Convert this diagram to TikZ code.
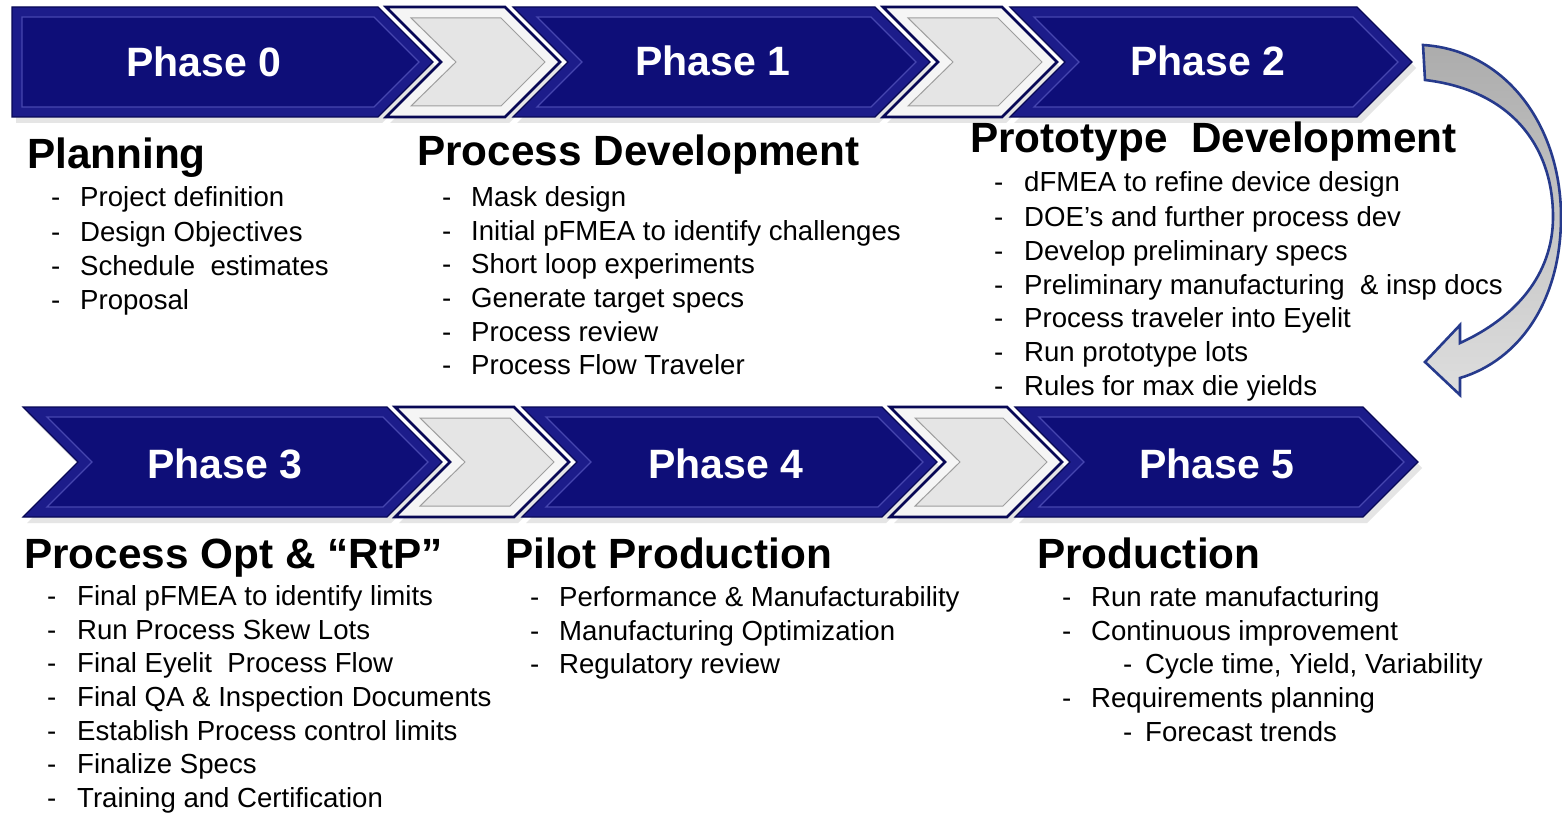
\documentclass[tikz,border=0pt]{standalone}
\usepackage{fontspec}
\setmainfont{Liberation Sans}
\definecolor{navyout}{RGB}{28,28,138}
\definecolor{navyin}{RGB}{14,14,120}
\definecolor{navyedge}{RGB}{8,8,85}
\definecolor{bevelblue}{RGB}{70,70,175}
\definecolor{arrowedge}{RGB}{38,58,140}
\definecolor{arrowtop}{RGB}{172,172,172}
\definecolor{arrowbot}{RGB}{222,222,222}

% blue phase chevron: xl, xn (notch), xr (top right), xt (tip), yt, inner left inset top, inner left inset mid
\newcommand\bluechev[7]{%
  \fill[shadowfill] (#1+4,#5+6) -- (#3+4,#5+6) -- (#4+4,#5+61) -- (#3+4,#5+116) -- (#1+4,#5+116) -- (#2+4,#5+61) -- cycle;
  \path[blue outer] (#1,#5) -- (#3,#5) -- (#4,#5+55) -- (#3,#5+110) -- (#1,#5+110) -- (#2,#5+55) -- cycle;
  \path[blue inner] (#1+#6,#5+10) -- (#3-4,#5+10) -- (#4-14,#5+55) -- (#3-4,#5+100) -- (#1+#6,#5+100) -- (#2+#7,#5+55) -- cycle;
}
% grey connecting chevron: xl, xn, xr, xt, yt
\newcommand\graychev[5]{%
  \fill[shadowfill] (#1+4,#5+6) -- (#3+4,#5+6) -- (#4+4,#5+61) -- (#3+4,#5+116) -- (#1+4,#5+116) -- (#2+4,#5+61) -- cycle;
  \path[gray outer] (#1,#5) -- (#3,#5) -- (#4,#5+55) -- (#3,#5+110) -- (#1,#5+110) -- (#2,#5+55) -- cycle;
  \path[gray inner] (#1+25,#5+11) -- (#3-4,#5+11) -- (#4-15,#5+55) -- (#3-4,#5+99) -- (#1+25,#5+99) -- (#2+15,#5+55) -- cycle;
}
% one list line: name, dash x, text x, baseline y, text
\newcommand\listline[5]{%
  \node[item] (#1-d) at (#2,#4) {-};
  \node[item] (#1) at (#3,#4) {#5};
}

\begin{document}
\begin{tikzpicture}[x=1pt,y=-1pt,
  shadowfill/.style={fill=black!10},
  blue outer/.style={fill=navyout, draw=navyedge, line width=1.2pt, line join=miter},
  blue inner/.style={fill=navyin, draw=bevelblue, line width=1.3pt, line join=miter},
  gray outer/.style={fill=black!4, draw=navyedge, line width=2.6pt, line join=miter},
  gray inner/.style={fill=black!10, draw=black!38, line width=1pt, line join=miter},
  phase label/.style={text=white, font=\fontsize{41}{41}\selectfont\bfseries, anchor=base, inner sep=0pt},
  heading/.style={font=\fontsize{42.3}{42.3}\selectfont\bfseries, anchor=base west, inner sep=0pt},
  item/.style={font=\fontsize{27.6}{27.6}\selectfont, anchor=base west, inner sep=0pt}]
\useasboundingbox (0,0) rectangle (1562,813);
\fill[white] (0,0) rectangle (1562,813);

% ---- top row of phases ----
\bluechev{12}{12}{378}{433}{7}{10}{10}
\graychev{386}{441}{505}{560}{7}
\bluechev{513}{568}{875}{930}{7}{24}{14}
\graychev{883}{938}{1002}{1057}{7}
\bluechev{1010}{1065}{1357}{1412}{7}{24}{14}

% ---- bottom row of phases ----
\bluechev{23}{78}{387}{442}{407}{24}{14}
\graychev{395}{450}{514}{569}{407}
\bluechev{522}{577}{882}{937}{407}{24}{14}
\graychev{890}{945}{1007}{1062}{407}
\bluechev{1015}{1070}{1363}{1418}{407}{24}{14}

% phase captions
\node[phase label] (ph0) at (204,77) {Phase 0};
\node[phase label] (ph1) at (713,76) {Phase 1};
\node[phase label] (ph2) at (1208,76) {Phase 2};
\node[phase label] (ph3) at (225,478) {Phase 3};
\node[phase label] (ph4) at (726,478) {Phase 4};
\node[phase label] (ph5) at (1217,478) {Phase 5};

% curved return arrow from the top row to the bottom row
\path[draw=arrowedge, line width=2.6pt, line join=miter, top color=arrowtop, bottom color=arrowbot]
  (1423,45) .. controls (1505,50) and (1561,125) .. (1561,217)
  .. controls (1561,300) and (1520,360) .. (1460,378)
  -- (1460,395) -- (1425,362) -- (1460,325) -- (1460,343)
  .. controls (1515,318) and (1553,275) .. (1553,217)
  .. controls (1553,145) and (1510,90) .. (1425,80) -- cycle;

% ---- Phase 0 ----
\node[heading] (h0) at (27,169) {Planning};
\listline{a1}{51}{80}{207}{Project definition}
\listline{a2}{51}{80}{241}{Design Objectives}
\listline{a3}{51}{80}{275}{Schedule~ estimates}
\listline{a4}{51}{80}{309}{Proposal}

% ---- Phase 1 ----
\node[heading] (h1) at (417,166) {Process Development};
\listline{b1}{442}{471}{206}{Mask design}
\listline{b2}{442}{471}{240}{Initial pFMEA to identify challenges}
\listline{b3}{442}{471}{273}{Short loop experiments}
\listline{b4}{442}{471}{307}{Generate target specs}
\listline{b5}{442}{471}{341}{Process review}
\listline{b6}{442}{471}{374}{Process Flow Traveler}

% ---- Phase 2 ----
\node[heading] (h2) at (970,153) {Prototype~ Development};
\listline{c1}{994}{1024}{192}{dFMEA to refine device design}
\listline{c2}{994}{1024}{226}{DOE’s and further process dev}
\listline{c3}{994}{1024}{260}{Develop preliminary specs}
\listline{c4}{994}{1024}{294}{Preliminary manufacturing~ \& insp docs}
\listline{c5}{994}{1024}{327}{Process traveler into Eyelit}
\listline{c6}{994}{1024}{361}{Run prototype lots}
\listline{c7}{994}{1024}{395}{Rules for max die yields}

% ---- Phase 3 ----
\node[heading] (h3) at (24,568) {Process Opt \& “RtP”};
\listline{d1}{47}{77}{605}{Final pFMEA to identify limits}
\listline{d2}{47}{77}{639}{Run Process Skew Lots}
\listline{d3}{47}{77}{672}{Final Eyelit~ Process Flow}
\listline{d4}{47}{77}{706}{Final QA \& Inspection Documents}
\listline{d5}{47}{77}{740}{Establish Process control limits}
\listline{d6}{47}{77}{773}{Finalize Specs}
\listline{d7}{47}{77}{807}{Training and Certification}

% ---- Phase 4 ----
\node[heading] (h4) at (505,568) {Pilot Production};
\listline{e1}{530}{559}{606}{Performance \& Manufacturability}
\listline{e2}{530}{559}{640}{Manufacturing Optimization}
\listline{e3}{530}{559}{673}{Regulatory review}

% ---- Phase 5 ----
\node[heading] (h5) at (1037,568) {Production};
\listline{f1}{1062}{1091}{606}{Run rate manufacturing}
\listline{f2}{1062}{1091}{640}{Continuous improvement}
\listline{f3}{1123}{1145}{673}{Cycle time, Yield, Variability}
\listline{f4}{1062}{1091}{707}{Requirements planning}
\listline{f5}{1123}{1145}{741}{Forecast trends}
\end{tikzpicture}
\end{document}
